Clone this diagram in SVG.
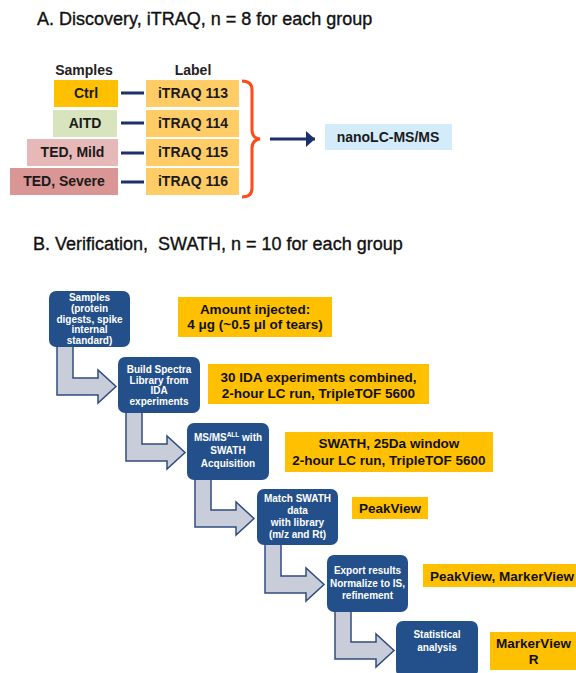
<svg xmlns="http://www.w3.org/2000/svg" width="576" height="673" viewBox="0 0 576 673">
<style>
text{font-family:"Liberation Sans",Arial,sans-serif;}
.title{font-size:18px;fill:#111;stroke:#111;stroke-width:0.35;}
.hdr{font-size:14px;font-weight:bold;fill:#222;text-anchor:middle;}
.lbl{font-size:14px;font-weight:bold;fill:#1a1a1a;text-anchor:middle;}
.step{fill:#23508B;}
.st{font-size:10px;font-weight:bold;fill:#fff;text-anchor:middle;}
.note{fill:#FFC000;}
.nt{font-size:13.5px;font-weight:bold;fill:#111;text-anchor:middle;}
.itraq{fill:#FFCC66;}
.link{stroke:#1B2F6B;stroke-width:3;fill:none;}
.flow{fill:#C9CDD9;stroke:#2F4C7E;stroke-width:1.5;stroke-linejoin:miter;}
</style>
<defs>
<marker id="ah" markerWidth="8" markerHeight="8" refX="3" refY="3" orient="auto" markerUnits="strokeWidth">
<path d="M0,0.3 L3,3 L0,5.7 Z" fill="#1B2F6B"/>
</marker>
</defs>
<rect width="576" height="673" fill="#fff"/>

<text class="title" x="37" y="25">A. Discovery, iTRAQ, n = 8 for each group</text>
<text class="hdr" x="84" y="75">Samples</text>
<text class="hdr" x="193" y="75">Label</text>

<g id="ctrl"><rect x="54" y="80" width="64" height="27" fill="#FFC000"/><text class="lbl" x="86" y="98">Ctrl</text></g>
<g id="aitd"><rect x="53" y="110" width="64" height="27" fill="#D7E4BD"/><text class="lbl" x="85" y="128">AITD</text></g>
<g id="ted-mild"><rect x="27" y="139" width="91" height="27" fill="#E6B9B8"/><text class="lbl" x="72.5" y="157">TED, Mild</text></g>
<g id="ted-severe"><rect x="10" y="168" width="108" height="27" fill="#D99694"/><text class="lbl" x="64" y="186">TED, Severe</text></g>

<g id="itraq113"><rect class="itraq" x="146" y="80" width="93" height="27"/><text class="lbl" x="193" y="98">iTRAQ 113</text></g>
<g id="itraq114"><rect class="itraq" x="146" y="110" width="93" height="27"/><text class="lbl" x="193" y="128">iTRAQ 114</text></g>
<g id="itraq115"><rect class="itraq" x="146" y="139" width="93" height="27"/><text class="lbl" x="193" y="157">iTRAQ 115</text></g>
<g id="itraq116"><rect class="itraq" x="146" y="168" width="93" height="27"/><text class="lbl" x="193" y="186">iTRAQ 116</text></g>

<g id="nanolc"><rect x="325" y="124" width="127" height="26" fill="#D4EBF9"/><text class="lbl" x="388" y="142">nanoLC-MS/MS</text></g>

<text class="title" x="33" y="250">B. Verification,&#160; SWATH, n = 10 for each group</text>

<g id="connectors">
<line class="link" x1="121" y1="93" x2="144" y2="93"/>
<line class="link" x1="121" y1="123" x2="144" y2="123"/>
<line class="link" x1="121" y1="153" x2="144" y2="153"/>
<line class="link" x1="121" y1="182" x2="144" y2="182"/>
<path d="M242,81 Q252,81 252,90 V130 Q252,138 260,139 Q252,140 252,148 V188 Q252,197 242,197" fill="none" stroke="#FF4A1A" stroke-width="3"/>
<line class="link" x1="270" y1="139" x2="315" y2="139" marker-end="url(#ah)"/>
<path class="flow" d="M57,346 H73 V378 H98 V370 L116,386.5 L98,403 V395 H57 Z"/>
<path class="flow" d="M126,412 H142 V444 H167 V436 L185,452.5 L167,469 V461 H126 Z"/>
<path class="flow" d="M195,478 H211 V510 H236 V502 L254,518.5 L236,535 V527 H195 Z"/>
<path class="flow" d="M265,544 H281 V576 H306 V568 L324,584.5 L306,601 V593 H265 Z"/>
<path class="flow" d="M335,610 H351 V642 H376 V634 L394,650.5 L376,667 V659 H335 Z"/>
</g>

<g id="step1"><rect class="step" x="49" y="291" width="81" height="56" rx="7"/>
<text class="st" x="89.5" y="301">Samples</text><text class="st" x="89.5" y="312">(protein</text><text class="st" x="89.5" y="322.5">digests, spike</text><text class="st" x="89.5" y="333">internal</text><text class="st" x="89.5" y="344">standard)</text></g>
<g id="step2"><rect class="step" x="118" y="357" width="82" height="56" rx="7"/>
<text class="st" x="159" y="372.5">Build Spectra</text><text class="st" x="159" y="383.5">Library from</text><text class="st" x="159" y="393.5">IDA</text><text class="st" x="159" y="404.5">experiments</text></g>
<g id="step3"><rect class="step" x="187" y="423" width="82" height="57" rx="7"/>
<text class="st" x="228" y="440.5">MS/MS<tspan font-size="6.5" dy="-3.5">ALL</tspan><tspan dy="3.5"> with</tspan></text><text class="st" x="228" y="453.5">SWATH</text><text class="st" x="228" y="466.5">Acquisition</text></g>
<g id="step4"><rect class="step" x="257" y="489" width="81" height="56" rx="7"/>
<text class="st" x="297.5" y="501.5">Match SWATH</text><text class="st" x="297.5" y="513.5">data</text><text class="st" x="297.5" y="525.5">with library</text><text class="st" x="297.5" y="537.5">(m/z and Rt)</text></g>
<g id="step5"><rect class="step" x="327" y="555" width="81" height="57" rx="7"/>
<text class="st" x="367.5" y="573.5">Export results</text><text class="st" x="367.5" y="586.5">Normalize to IS,</text><text class="st" x="367.5" y="598.5">refinement</text></g>
<g id="step6"><rect class="step" x="396" y="621" width="82" height="56" rx="7"/>
<text class="st" x="437" y="637.5">Statistical</text><text class="st" x="437" y="650.5">analysis</text></g>

<g id="note1"><rect class="note" x="178" y="297" width="154" height="40"/>
<text class="nt" x="255" y="314">Amount injected:</text><text class="nt" x="255" y="329">4 μg (~0.5 μl of tears)</text></g>
<g id="note2"><rect class="note" x="208" y="364" width="221" height="40"/>
<text class="nt" x="318.5" y="382">30 IDA experiments combined,</text><text class="nt" x="318.5" y="398">2-hour LC run, TripleTOF 5600</text></g>
<g id="note3"><rect class="note" x="285" y="432" width="208" height="40"/>
<text class="nt" x="389" y="448">SWATH, 25Da window</text><text class="nt" x="389" y="465">2-hour LC run, TripleTOF 5600</text></g>
<g id="note4"><rect class="note" x="352" y="497" width="76" height="22"/>
<text class="nt" x="390" y="513">PeakView</text></g>
<g id="note5"><rect class="note" x="423" y="564" width="160" height="23"/>
<text class="nt" x="502" y="581">PeakView, MarkerView</text></g>
<g id="note6"><rect class="note" x="490" y="632" width="90" height="38"/>
<text class="nt" x="533.5" y="648">MarkerView</text><text class="nt" x="533.5" y="664">R</text></g>
</svg>
